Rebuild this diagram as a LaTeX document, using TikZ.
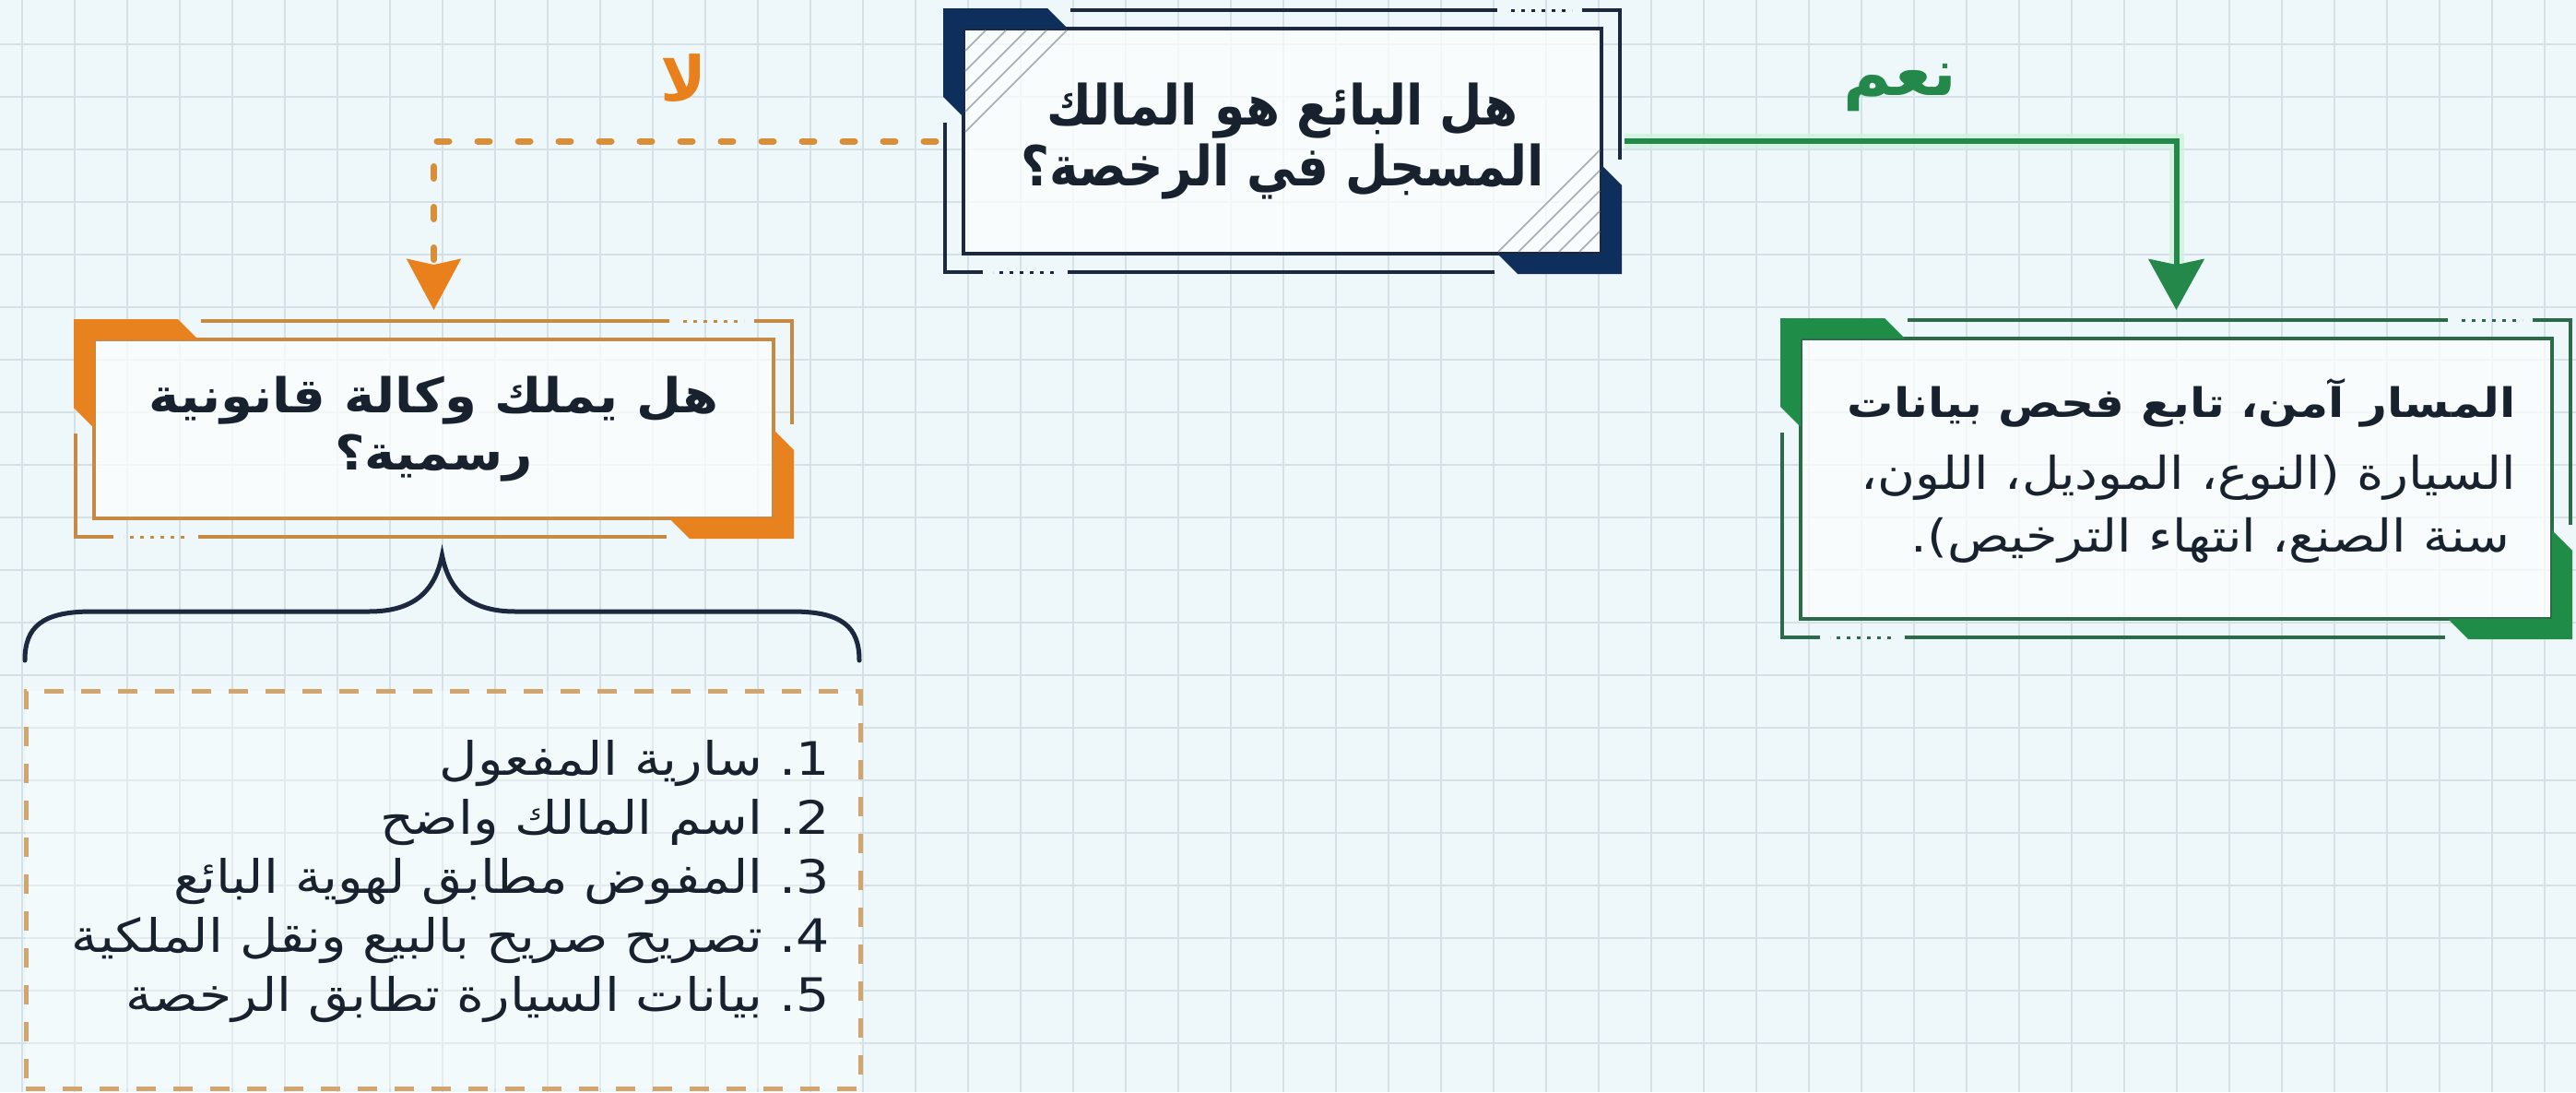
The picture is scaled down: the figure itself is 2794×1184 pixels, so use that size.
\documentclass[tikz,border=0pt]{standalone}
\usepackage{fontspec}
\usetikzlibrary{arrows.meta,calc}
\newfontfamily\arfont[Script=Arabic]{DejaVu Sans}
\newfontfamily\armain[Script=Arabic,FakeStretch=0.89]{DejaVu Sans}
\newfontfamily\arwide[Script=Arabic,FakeStretch=1.08]{DejaVu Sans}
\newfontfamily\armid[Script=Arabic,FakeStretch=1.14]{DejaVu Sans}
\TeXXeTstate=1
\definecolor{bg}{HTML}{EEF8FA}
\definecolor{gridc}{HTML}{D5E1E7}
\definecolor{navyband}{HTML}{0E2E5C}
\definecolor{navyline}{HTML}{1B2840}
\definecolor{orband}{HTML}{E8821E}
\definecolor{orline}{HTML}{C78A45}
\definecolor{grband}{HTML}{1F8C47}
\definecolor{grline}{HTML}{2C6B48}
\definecolor{grglow}{HTML}{CDF3DA}
\definecolor{txt}{HTML}{18222F}
\definecolor{hatchc}{HTML}{A3ABB3}
\definecolor{dashbox}{HTML}{D2A46E}
\definecolor{orarrow}{HTML}{D98E38}
\definecolor{ortip}{HTML}{E9801B}
\definecolor{grarrow}{HTML}{23884A}
\newcommand\fancyframe[6]{%
  \pgfmathsetmacro\ofa{#1-22}\pgfmathsetmacro\ofb{#2-22}%
  \pgfmathsetmacro\ofc{#3+22}\pgfmathsetmacro\ofd{#4+22}%
  \fill[#5] (\ofa,\ofb) -- (\ofa+113,\ofb) -- (\ofa+135,#2) -- (#1,#2) -- (#1,\ofb+118) -- (\ofa,\ofb+96) -- cycle;
  \fill[#5] (\ofc,\ofd) -- (\ofc-113,\ofd) -- (\ofc-135,#4) -- (#3,#4) -- (#3,\ofd-118) -- (\ofc,\ofd-96) -- cycle;
  \draw[thinframe,#6] (\ofa+138,\ofb+2) -- (\ofc-135,\ofb+2);
  \draw[dotframe,#6] (\ofc-120,\ofb+2) -- (\ofc-54,\ofb+2);
  \draw[thinframe,#6] (\ofc-43,\ofb+2) -- (\ofc-2,\ofb+2) -- (\ofc-2,\ofd-124);
  \draw[thinframe,#6] (\ofc-138,\ofd-2) -- (\ofa+135,\ofd-2);
  \draw[dotframe,#6] (\ofa+120,\ofd-2) -- (\ofa+54,\ofd-2);
  \draw[thinframe,#6] (\ofa+43,\ofd-2) -- (\ofa+2,\ofd-2) -- (\ofa+2,\ofb+124);
}
\tikzset{
  x=1pt, y=-1pt,
  thinframe/.style={line width=4.5pt},
  dotframe/.style={line width=3pt, dash pattern=on 4pt off 7pt},
  innerbox/.style={line width=4pt, fill=white, fill opacity=0.7, text opacity=1, text=txt, inner sep=0pt},
  mainfont/.style={font={\armain\bfseries\fontsize{60pt}{66pt}\selectfont}},
  orfont/.style={font={\arwide\bfseries\fontsize{52pt}{62pt}\selectfont}},
  greenbold/.style={anchor=base east, inner sep=0pt, text=txt, font={\armid\bfseries\fontsize{44pt}{50pt}\selectfont}},
  greenreg/.style={anchor=base east, inner sep=0pt, text=txt, font={\armid\fontsize{49pt}{50pt}\selectfont}},
  listline/.style={anchor=base east, inner sep=0pt, text=txt, font={\armid\fontsize{50pt}{50pt}\selectfont}},
  orconn/.style={orarrow, line width=7pt, line cap=round, dash pattern=on 13pt off 31pt,
    -{Stealth[length=55pt 0, width=58pt 0, inset=6pt 0, color=ortip]}},
  grconn/.style={grarrow, line width=6pt,
    -{Stealth[length=55pt 0, width=60pt 0, inset=6pt 0]}},
  grglowline/.style={grglow, line width=16pt, opacity=0.8},
  brace/.style={navyline, line width=5pt, line cap=round},
}
\begin{document}
\begin{tikzpicture}
\useasboundingbox (0,0) rectangle (2794,1184);
\fill[bg] (0,0) rectangle (2794,1184);
\foreach \gx in {24,81,...,2794} \draw[gridc, line width=2.5pt] (\gx,0) -- (\gx,1184);
\foreach \gy in {48,105,...,1184} \draw[gridc, line width=2.5pt] (0,\gy) -- (2794,\gy);

% main question
\node[innerbox, draw=navyline, minimum width=692pt, minimum height=244pt, align=center, mainfont] (mq) at (1391,153)
  {\beginR هل البائع هو المالك\endR\\\beginR المسجل في الرخصة؟\endR};
\fancyframe{1045}{31}{1737}{275}{navyband}{navyline}
\foreach \d in {22,44,66,88,110} {
  \draw[hatchc, line width=1.5pt] (1047+\d,33) -- (1047,33+\d);
  \draw[hatchc, line width=1.5pt] (1735-\d,273) -- (1735,273-\d);
}

% orange question
\node[innerbox, draw=orline, minimum width=737pt, minimum height=194pt, align=center, orfont] (oq) at (470.5,465)
  {\beginR هل يملك وكالة قانونية\endR\\\beginR رسمية؟\endR};
\fancyframe{102}{368}{839}{562}{orband}{orline}

% green result
\node[innerbox, draw=grline, minimum width=815pt, minimum height=304pt] (gq) at (2360.5,519) {};
\fancyframe{1953}{367}{2768}{671}{grband}{grline}
\node[greenbold] (g1) at (2729,452) {\beginR المسار آمن، تابع فحص بيانات\endR};
\node[greenreg] (g2) at (2729,530) {\beginR السيارة (النوع، الموديل، اللون،\endR};
\node[greenreg] (g3) at (2722,598) {\beginR سنة الصنع، انتهاء الترخيص).\endR};

% connectors
\draw[orconn] ($(mq.west)+(-28,0)$) -| ($(oq.north)+(0,-30)$);
\draw[grglowline] ($(mq.east)+(23,0)$) -| ($(gq.north)+(0,-80)$);
\draw[grconn] ($(mq.east)+(23,0)$) -| ($(gq.north)+(0,-29)$);
\node[inner sep=0pt, text=ortip, font={\arfont\bfseries\fontsize{67pt}{70pt}\selectfont}] (no) at (741,85) {\beginR لا\endR};
\node[inner sep=0pt, text=grarrow, font={\arfont\bfseries\fontsize{71pt}{74pt}\selectfont}] (yes) at (2061,95) {\beginR نعم\endR};

% brace and list
\coordinate (bl) at (27,716);
\coordinate (br) at (932,716);
\coordinate (btip) at (479.5,602);
\draw[brace] (bl) .. controls (27,680) and (45,663) .. (100,663) -- (400,663)
  .. controls (450,663) and (472,640) .. (btip)
  .. controls (487,640) and (509,663) .. (559,663) -- (859,663)
  .. controls (914,663) and (932,680) .. (br);
\node[draw=dashbox, line width=5pt, dash pattern=on 21pt off 19pt, fill=white, fill opacity=0.35,
  minimum width=905pt, minimum height=431pt, inner sep=0pt] (ld) at (480.5,964.5) {};
\node[listline] (l1) at (900,840) {\beginR 1\kern0pt.\ سارية المفعول\endR};
\node[listline] (l2) at (900,904) {\beginR 2\kern0pt.\ اسم المالك واضح\endR};
\node[listline] (l3) at (900,968) {\beginR 3\kern0pt.\ المفوض مطابق لهوية البائع\endR};
\node[listline] (l4) at (900,1032) {\beginR 4\kern0pt.\ تصريح صريح بالبيع ونقل الملكية\endR};
\node[listline] (l5) at (900,1096) {\beginR 5\kern0pt.\ بيانات السيارة تطابق الرخصة\endR};
\end{tikzpicture}
\end{document}
